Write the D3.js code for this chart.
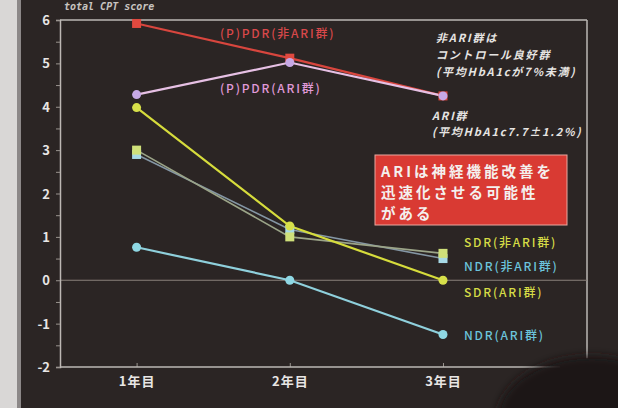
<!DOCTYPE html>
<html>
<head>
<meta charset="utf-8">
<script src="https://cdn.jsdelivr.net/npm/d3@7"></script>
<style>
  html, body { margin: 0; padding: 0; background: #2b2524; }
  svg { display: block; }
  text { font-family: "Noto Sans CJK JP", "DejaVu Sans", sans-serif; }
</style>
</head>
<body>
<svg id="chart" width="618" height="408"></svg>
<script>
// Categories (years) and total CPT score per group
const years = ["1年目", "2年目", "3年目"];
const pdrNonAri = [5.92, 5.12, 4.25];
const pdrAri    = [4.28, 5.02, 4.25];
const sdrAri    = [3.98, 1.25, 0.0];
const sdrNonAri = [3.0, 1.0, 0.62];
const ndrNonAri = [2.9, 1.17, 0.5];
const ndrAri    = [0.76, 0.0, -1.25];
const yTicks = [-2, -1, 0, 1, 2, 3, 4, 5, 6];

const series = [
  { name: "(P)PDR(非ARI群)", values: pdrNonAri, line: "#d8463e", fill: "#e0493f", shape: "square", w: 2.2 },
  { name: "(P)PDR(ARI群)",  values: pdrAri,    line: "#e6c0e4", fill: "#c7a9e6", shape: "circle", w: 2.2 },
  { name: "NDR(非ARI群)",   values: ndrNonAri, line: "#8496a4", fill: "#a7d9e6", shape: "square", w: 1.6 },
  { name: "SDR(非ARI群)",   values: sdrNonAri, line: "#9ba488", fill: "#cfe07a", shape: "square", w: 1.6 },
  { name: "SDR(ARI群)",     values: sdrAri,    line: "#d6dc3c", fill: "#d7e04a", shape: "circle", w: 2.2 },
  { name: "NDR(ARI群)",     values: ndrAri,    line: "#8fd0dc", fill: "#8fd8e4", shape: "circle", w: 2.2 }
];

const svg = d3.select("#chart");
const mLeft = 60, mRight = 587, mTop = 20, mBottom = 367;

const defs = svg.append("defs");
defs.append("filter").attr("id", "soft").append("feGaussianBlur").attr("stdDeviation", 4);

// background with a light wall strip on the left
svg.append("rect").attr("width", 618).attr("height", 408).attr("fill", "#2b2524");
svg.append("rect").attr("x", 0).attr("y", 0).attr("width", 17).attr("height", 408).attr("fill", "#d9d7d6");
svg.append("rect").attr("x", 17).attr("y", 0).attr("width", 4).attr("height", 408).attr("fill", "#8c8888");

const x = d3.scaleLinear().domain([0.5, 3.94]).range([mLeft, mRight]);
const xPos = i => x(i + 1);
const y = d3.scaleLinear().domain([-2, 6]).range([mBottom, mTop]);

const frame = "#bdb8b4";
// frame: top line, right line, zero line
svg.append("line").attr("x1", mLeft).attr("x2", mRight).attr("y1", y(6)).attr("y2", y(6))
  .attr("stroke", frame).attr("stroke-width", 1.5);
svg.append("line").attr("x1", mRight).attr("x2", mRight).attr("y1", y(6)).attr("y2", y(-1.8))
  .attr("stroke", frame).attr("stroke-width", 1.5);
svg.append("line").attr("x1", mLeft).attr("x2", mRight).attr("y1", y(0)).attr("y2", y(0))
  .attr("stroke", "#8a807a").attr("stroke-width", 1.2);

// y axis with minor ticks
const yAxis = d3.axisLeft(y).tickValues(d3.range(-2, 6.01, 0.5)).tickSize(4).tickFormat("");
const gy = svg.append("g").attr("transform", `translate(${mLeft},0)`).call(yAxis);
gy.select(".domain").attr("stroke", frame).attr("stroke-width", 1.5);
gy.selectAll(".tick line").attr("stroke", "#9a948f");

svg.append("g").selectAll("text").data(yTicks).join("text")
  .attr("x", 50).attr("y", d => y(d) + 5)
  .attr("text-anchor", "end").attr("fill", "#e8e6e4")
  .attr("font-size", 13).attr("font-weight", "bold")
  .text(d => d);

// x axis
const gx = svg.append("g").attr("transform", `translate(0,${mBottom})`)
  .call(d3.axisBottom(d3.scalePoint().domain(years).range([xPos(0), xPos(2)])).tickSize(-4).tickPadding(10));
gx.select(".domain").remove();
svg.append("line").attr("x1", mLeft).attr("x2", 560).attr("y1", mBottom).attr("y2", mBottom)
  .attr("stroke", frame).attr("stroke-width", 1.5);
gx.selectAll(".tick line").attr("stroke", "#9a948f");
gx.selectAll(".tick text").attr("fill", "#e8e6e4").attr("font-size", 13).attr("font-weight", "bold")
  .style("font-family", "'Noto Sans CJK JP', sans-serif").style("letter-spacing", "1px");

// axis title
svg.append("text").attr("x", 64).attr("y", 10).attr("fill", "#c8c4c0")
  .attr("font-size", 10).attr("font-style", "italic")
  .style("font-family", "'DejaVu Sans Mono', monospace")
  .attr("font-weight", "bold").text("total CPT score");

// lines and markers
const line = d3.line().x((d, i) => xPos(i)).y(d => y(d));
series.forEach(s => {
  svg.append("path").attr("d", line(s.values)).attr("fill", "none")
    .attr("stroke", s.line).attr("stroke-width", s.w);
});
series.forEach(s => {
  const g = svg.append("g");
  if (s.shape === "square") {
    g.selectAll("rect").data(s.values).join("rect")
      .attr("x", (d, i) => xPos(i) - 4.5).attr("y", d => y(d) - 4.5)
      .attr("width", 9).attr("height", 9).attr("fill", s.fill);
  } else {
    g.selectAll("circle").data(s.values).join("circle")
      .attr("cx", (d, i) => xPos(i)).attr("cy", d => y(d)).attr("r", 4.5).attr("fill", s.fill);
  }
});

// series labels
const lab = (t, lx, ly, c) => svg.append("text").attr("x", lx).attr("y", ly).attr("fill", c)
  .attr("font-size", 12).attr("font-weight", 500).style("letter-spacing", "1.8px").text(t);
lab("(P)PDR(非ARI群)", 220, 38, "#d8484a");
lab("(P)PDR(ARI群)", 220, 93, "#e09ad8");
lab("SDR(非ARI群)", 464, 247, "#d6dc46");
lab("NDR(非ARI群)", 464, 271, "#6cc4dc");
lab("SDR(ARI群)", 464, 297, "#d6dc46");
lab("NDR(ARI群)", 464, 340, "#6cc4dc");

// annotations
const note = (lines, nx, ny, lh) => {
  const t = svg.append("text").attr("fill", "#e6e4e2").attr("font-size", 11)
    .attr("font-style", "italic").attr("font-weight", "bold").style("letter-spacing", "1.8px");
  lines.forEach((l, i) => t.append("tspan").attr("x", nx).attr("y", ny + i * lh).text(l));
};
note(["非ARI群は", "コントロール良好群", "(平均HbA1cが7%未満)"], 436, 42, 17);
note(["ARI群", "(平均HbA1c7.7±1.2%)"], 432, 120, 16);

// highlighted conclusion
svg.append("rect").attr("x", 375).attr("y", 155).attr("width", 192).attr("height", 70)
  .attr("fill", "#d93a33").attr("stroke", "#e9a8a0").attr("stroke-width", 1);
const box = svg.append("text").attr("fill", "#f4f0ee").attr("font-size", 14.5).attr("font-weight", "bold")
  .style("letter-spacing", "3px");
["ARIは神経機能改善を", "迅速化させる可能性", "がある"].forEach((l, i) =>
  box.append("tspan").attr("x", 381).attr("y", 177 + i * 21).text(l));

// dark shape at the lower right
svg.append("ellipse").attr("cx", 592).attr("cy", 420).attr("rx", 95).attr("ry", 64)
  .attr("fill", "#1c1817").attr("filter", "url(#soft)");
</script>
</body>
</html>
